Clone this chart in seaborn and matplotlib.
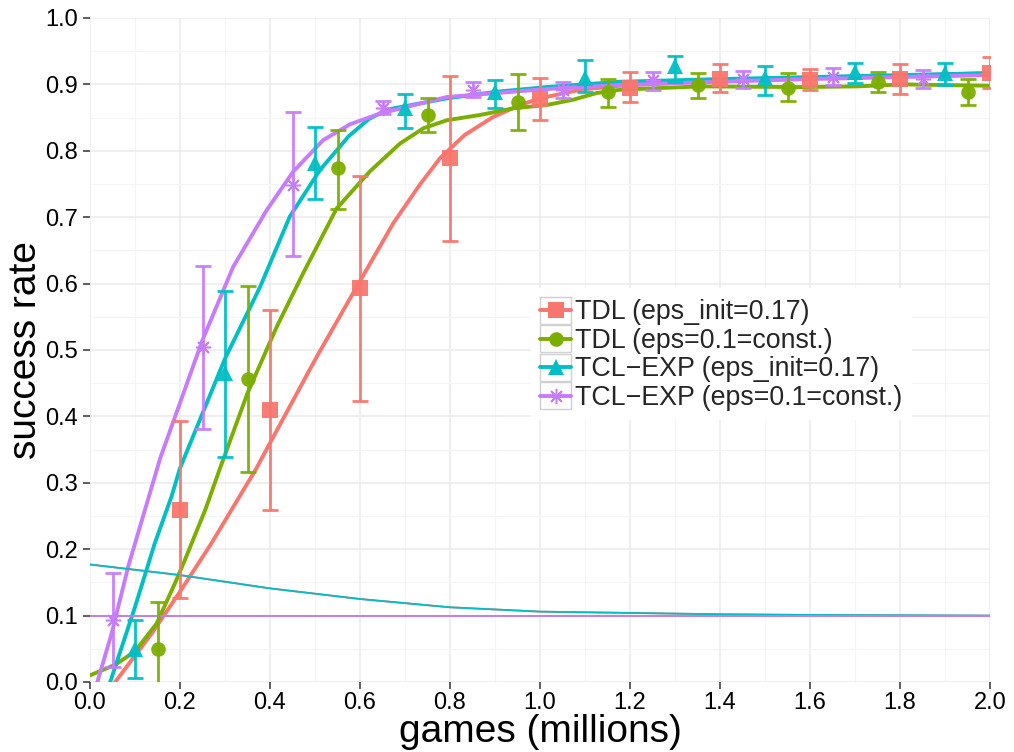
import numpy as np
import pandas as pd
import matplotlib
matplotlib.use("Agg")
import matplotlib.pyplot as plt
import seaborn as sns
from matplotlib.lines import Line2D
from matplotlib.patches import Rectangle
from matplotlib.legend_handler import HandlerBase

# ---------------- data ----------------
series_labels = ["TDL (eps_init=0.17)", "TDL (eps=0.1=const.)",
                 "TCL\u2212EXP (eps_init=0.17)", "TCL\u2212EXP (eps=0.1=const.)"]
colors = ["#F8766D", "#7CAE00", "#00BFC4", "#C77CFF"]

# measured points with error bars
tdl_init_x = [0.2, 0.4, 0.6, 0.8, 1.0, 1.2, 1.4, 1.6, 1.8, 2.0]
tdl_init_y = [0.259, 0.409, 0.593, 0.789, 0.878, 0.895, 0.908, 0.907, 0.908, 0.917]
tdl_init_lo = [0.127, 0.259, 0.423, 0.664, 0.847, 0.873, 0.888, 0.891, 0.886, 0.894]
tdl_init_hi = [0.393, 0.560, 0.762, 0.913, 0.909, 0.918, 0.931, 0.923, 0.931, 0.941]

tdl_const_x = [0.15, 0.35, 0.55, 0.75, 0.95, 1.15, 1.35, 1.55, 1.75, 1.95]
tdl_const_y = [0.049, 0.457, 0.774, 0.854, 0.873, 0.889, 0.899, 0.895, 0.903, 0.889]
tdl_const_lo = [-0.02, 0.316, 0.713, 0.829, 0.831, 0.866, 0.880, 0.875, 0.888, 0.869]
tdl_const_hi = [0.121, 0.597, 0.831, 0.879, 0.915, 0.908, 0.917, 0.917, 0.918, 0.908]

tcl_init_x = [0.1, 0.3, 0.5, 0.7, 0.9, 1.1, 1.3, 1.5, 1.7, 1.9]
tcl_init_y = [0.049, 0.465, 0.781, 0.864, 0.889, 0.909, 0.927, 0.909, 0.918, 0.917]
tcl_init_lo = [0.006, 0.339, 0.727, 0.835, 0.865, 0.888, 0.904, 0.884, 0.902, 0.899]
tcl_init_hi = [0.094, 0.589, 0.836, 0.886, 0.906, 0.936, 0.943, 0.928, 0.932, 0.932]

tcl_const_x = [0.05, 0.25, 0.45, 0.65, 0.85, 1.05, 1.25, 1.45, 1.65, 1.85]
tcl_const_y = [0.093, 0.505, 0.749, 0.864, 0.892, 0.892, 0.906, 0.908, 0.911, 0.908]
tcl_const_lo = [0.023, 0.381, 0.641, 0.855, 0.881, 0.880, 0.892, 0.895, 0.899, 0.894]
tcl_const_hi = [0.164, 0.627, 0.858, 0.875, 0.904, 0.903, 0.919, 0.920, 0.924, 0.922]

# learning curves
tdl_init_cx = [0.045, 0.137, 0.2, 0.27, 0.37, 0.4, 0.504, 0.601, 0.674, 0.733, 0.778,
               0.833, 0.896, 0.956, 1.0, 1.089, 1.178, 1.4, 1.6, 1.8, 2.0]
tdl_init_cy = [-0.01, 0.073, 0.136, 0.209, 0.322, 0.36, 0.49, 0.605, 0.691, 0.749, 0.789,
               0.824, 0.851, 0.869, 0.879, 0.892, 0.898, 0.906, 0.91, 0.913, 0.917]

tdl_const_cx = [0.0, 0.056, 0.1, 0.148, 0.189, 0.211, 0.256, 0.289, 0.35, 0.415, 0.474,
                0.548, 0.622, 0.689, 0.741, 0.793, 0.867, 0.941, 1.015, 1.074, 1.126,
                1.178, 1.356, 1.578, 1.704, 1.807, 2.0]
tdl_const_cy = [0.01, 0.026, 0.046, 0.088, 0.149, 0.184, 0.259, 0.322, 0.435, 0.535, 0.616,
                0.713, 0.769, 0.811, 0.834, 0.846, 0.854, 0.864, 0.869, 0.877, 0.887,
                0.892, 0.897, 0.896, 0.897, 0.9, 0.898]

tcl_init_cx = [0.04, 0.1, 0.144, 0.181, 0.2, 0.3, 0.378, 0.444, 0.511, 0.575, 0.62, 0.66,
               0.793, 0.904, 1.015, 1.178, 1.4, 1.6, 1.8, 2.0]
tcl_init_cy = [-0.01, 0.113, 0.209, 0.279, 0.322, 0.487, 0.595, 0.701, 0.771, 0.822, 0.848,
               0.862, 0.879, 0.889, 0.896, 0.904, 0.908, 0.911, 0.914, 0.917]

tcl_const_cx = [0.012, 0.048, 0.085, 0.122, 0.156, 0.25, 0.318, 0.393, 0.452, 0.518, 0.578,
                0.644, 0.793, 1.015, 1.178, 1.4, 1.6, 1.8, 2.0]
tcl_const_cy = [-0.01, 0.073, 0.174, 0.259, 0.337, 0.515, 0.625, 0.711, 0.769, 0.816, 0.84,
                0.856, 0.881, 0.893, 0.899, 0.904, 0.908, 0.911, 0.914]

# exploration rate curves
eps_x = [0.0, 0.2, 0.4, 0.6, 0.8, 1.0, 1.2, 1.4, 1.6, 1.8, 2.0]
eps_decay = [0.177, 0.161, 0.141, 0.125, 0.1125, 0.106, 0.104, 0.102, 0.101, 0.1005, 0.1]
eps_const = [0.1, 0.1, 0.1, 0.1, 0.1, 0.1, 0.1, 0.1, 0.1, 0.1, 0.1]

x_ticks = [0.0, 0.2, 0.4, 0.6, 0.8, 1.0, 1.2, 1.4, 1.6, 1.8, 2.0]
x_tick_labels = ["0.0", "0.2", "0.4", "0.6", "0.8", "1.0", "1.2", "1.4", "1.6", "1.8", "2.0"]
y_ticks = [0.0, 0.1, 0.2, 0.3, 0.4, 0.5, 0.6, 0.7, 0.8, 0.9, 1.0]
y_tick_labels = ["0.0", "0.1", "0.2", "0.3", "0.4", "0.5", "0.6", "0.7", "0.8", "0.9", "1.0"]

# ---------------- tables ----------------
points = [
    (tdl_init_x, tdl_init_y, tdl_init_lo, tdl_init_hi),
    (tdl_const_x, tdl_const_y, tdl_const_lo, tdl_const_hi),
    (tcl_init_x, tcl_init_y, tcl_init_lo, tcl_init_hi),
    (tcl_const_x, tcl_const_y, tcl_const_lo, tcl_const_hi),
]
curves = [(tdl_init_cx, tdl_init_cy), (tdl_const_cx, tdl_const_cy),
          (tcl_init_cx, tcl_init_cy), (tcl_const_cx, tcl_const_cy)]
eps_curves = [eps_decay, eps_const, eps_decay, eps_const]

curve_df = pd.concat([pd.DataFrame({"x": cx, "y": cy, "series": lab})
                      for (cx, cy), lab in zip(curves, series_labels)], ignore_index=True)
eps_df = pd.concat([pd.DataFrame({"x": eps_x, "y": ey, "series": lab})
                    for ey, lab in zip(eps_curves, series_labels)], ignore_index=True)

# ---------------- style ----------------
sns.set_theme(style="white")
plt.rcParams["font.family"] = ["Liberation Sans", "DejaVu Sans"]

fig = plt.figure(figsize=(10.14, 7.52), dpi=100)
ax = fig.add_axes([90 / 1014, 70 / 752, 900 / 1014, 664 / 752])

palette = dict(zip(series_labels, colors))
markers = ["s", "o", "^", (8, 2, 0)]
msizes = [11, 10.5, 12, 11]
mews = [0, 0, 0, 1.1]

# grid
ax.set_xlim(0, 2.0)
ax.set_ylim(0, 1.0)
ax.set_xticks(x_ticks)
ax.set_xticklabels(x_tick_labels)
ax.set_yticks(y_ticks)
ax.set_yticklabels(y_tick_labels)
ax.set_xticks(np.arange(0.1, 2.0, 0.2), minor=True)
ax.set_yticks(np.arange(0.05, 1.0, 0.1), minor=True)
ax.grid(True, which="major", color="#EBEBEB", lw=1.1, zorder=0)
ax.grid(True, which="minor", color="#F5F5F5", lw=0.8, zorder=0)
ax.set_axisbelow(True)
for s in ax.spines.values():
    s.set_visible(False)

# curves
sns.lineplot(data=curve_df, x="x", y="y", hue="series", palette=palette,
             estimator=None, sort=False, lw=2.8, legend=False, ax=ax, zorder=2)
# exploration curves (thin)
sns.lineplot(data=eps_df, x="x", y="y", hue="series", palette=palette,
             estimator=None, sort=False, lw=1.3, legend=False, ax=ax, zorder=3)

# error bars + points
for (px, py, lo, hi), c, m, ms, mew in zip(points, colors, markers, msizes, mews):
    px = np.array(px); py = np.array(py); lo = np.array(lo); hi = np.array(hi)
    ax.errorbar(px, py, yerr=[py - lo, hi - py], fmt="none", ecolor=c,
                elinewidth=2.0, capsize=5.8, capthick=2.0, zorder=4, alpha=0.95)
    if mew > 0:
        ax.plot(px, py, ls="none", marker=m, color=c, ms=ms, mew=mew, zorder=5)
    else:
        ax.plot(px, py, ls="none", marker=m, color=c, mec=c, ms=ms, mew=0, zorder=5, alpha=0.95)

ax.tick_params(axis="both", which="major", length=5, width=1.1, color="#333333",
               labelsize=17, labelcolor="black", direction="out")
ax.tick_params(axis="x", which="major", pad=2)
ax.tick_params(axis="y", which="major", pad=3.5)
ax.tick_params(which="minor", length=0)
ax.xaxis.set_ticks_position("bottom")
ax.yaxis.set_ticks_position("left")

ax.set_xlabel("games (millions)", fontsize=28, color="black", labelpad=0)
ax.set_ylabel("success rate", fontsize=28, color="black", labelpad=1)


# legend with ggplot-like keys
class KeyHandler(HandlerBase):
    def create_artists(self, legend, orig_handle, xdescent, ydescent, width, height,
                       fontsize, trans):
        x0, y0 = -xdescent, -ydescent
        rect = Rectangle((x0, y0), width, height, facecolor="white",
                         edgecolor="#D0D0D0", lw=1.0, transform=trans)
        ln = Line2D([x0, x0 + width], [y0 + height / 2] * 2,
                    color=orig_handle.get_color(), lw=2.8, transform=trans)
        mk = Line2D([x0 + width / 2], [y0 + height / 2], ls="none",
                    marker=orig_handle.get_marker(), color=orig_handle.get_color(),
                    ms=orig_handle.get_markersize(), mew=orig_handle.get_markeredgewidth(),
                    transform=trans)
        return [rect, ln, mk]


handles = [Line2D([], [], color=c, marker=m, ms=ms, mew=(mew if mew > 0 else 0))
           for c, m, ms, mew in zip(colors, markers, msizes, mews)]
fs_px = 19.3 / 0.72
leg = ax.legend(handles, series_labels, handler_map={Line2D: KeyHandler()},
                loc="upper left", bbox_to_anchor=(0.49, 0.594), borderaxespad=0,
                fontsize=19.3, handlelength=31 / fs_px, handleheight=31 / fs_px,
                labelspacing=0.0, handletextpad=0.15, borderpad=0.35,
                frameon=True, fancybox=False, framealpha=1.0)
leg.get_frame().set_facecolor("white")
leg.get_frame().set_edgecolor("none")
leg.set_zorder(10)

fig.savefig("out.png", dpi=100)
